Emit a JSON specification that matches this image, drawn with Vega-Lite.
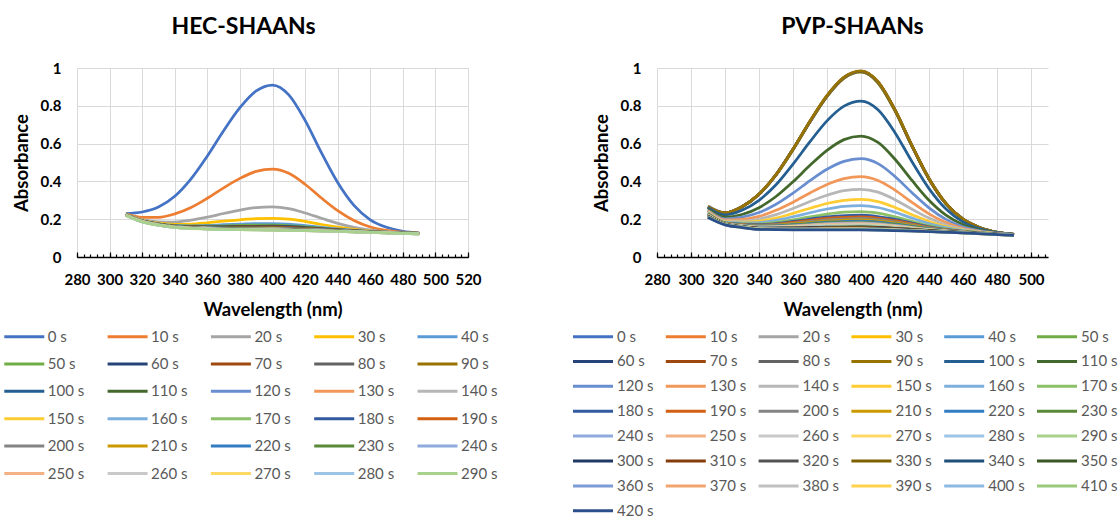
{
"$schema": "https://vega.github.io/schema/vega-lite/v6.json",
"padding": {"left": 4, "top": 16, "right": 0, "bottom": 0},
"autosize": {"type": "pad"},
"config": {
  "font": "Lato",
  "view": {"stroke": null},
  "axis": {"labelFont": "Lato", "labelFontWeight": "bold", "labelFontSize": 15, "labelColor": "#000000", "titleFont": "Lato", "titleFontWeight": "bold", "titleFontSize": 18.5, "titleColor": "#000000", "gridColor": "#D9D9D9", "gridWidth": 1, "labelFlush": false, "labelOverlap": false, "labelBound": false},
  "legend": {"orient": "none", "direction": "horizontal", "symbolSize": 100, "symbolStrokeWidth": 3, "symbolFillColor": "transparent", "labelFont": "Lato", "labelFontSize": 15, "labelColor": "#595959", "padding": 0, "gridAlign": "each", "labelLimit": 200, "symbolLimit": 0},
  "title": {"font": "Lato", "fontSize": 23, "fontWeight": "bold", "color": "#000000", "offset": 22}
},
"datasets": {
"hec": [
{"t":0,"w":310,"a":0.23},{"t":0,"w":320,"a":0.238},{"t":0,"w":330,"a":0.264},{"t":0,"w":340,"a":0.321},{"t":0,"w":350,"a":0.413},{"t":0,"w":360,"a":0.534},{"t":0,"w":370,"a":0.668},{"t":0,"w":380,"a":0.79},{"t":0,"w":390,"a":0.879},{"t":0,"w":400,"a":0.91},{"t":0,"w":410,"a":0.858},{"t":0,"w":420,"a":0.723},{"t":0,"w":430,"a":0.552},{"t":0,"w":440,"a":0.394},{"t":0,"w":450,"a":0.273},{"t":0,"w":460,"a":0.197},{"t":0,"w":470,"a":0.157},{"t":0,"w":480,"a":0.136},{"t":0,"w":490,"a":0.128},
{"t":10,"w":310,"a":0.228},{"t":10,"w":320,"a":0.21},{"t":10,"w":330,"a":0.21},{"t":10,"w":340,"a":0.228},{"t":10,"w":350,"a":0.262},{"t":10,"w":360,"a":0.311},{"t":10,"w":370,"a":0.366},{"t":10,"w":380,"a":0.416},{"t":10,"w":390,"a":0.453},{"t":10,"w":400,"a":0.465},{"t":10,"w":410,"a":0.443},{"t":10,"w":420,"a":0.385},{"t":10,"w":430,"a":0.312},{"t":10,"w":440,"a":0.245},{"t":10,"w":450,"a":0.193},{"t":10,"w":460,"a":0.159},{"t":10,"w":470,"a":0.141},{"t":10,"w":480,"a":0.131},{"t":10,"w":490,"a":0.126},
{"t":20,"w":310,"a":0.226},{"t":20,"w":320,"a":0.198},{"t":20,"w":330,"a":0.186},{"t":20,"w":340,"a":0.185},{"t":20,"w":350,"a":0.195},{"t":20,"w":360,"a":0.211},{"t":20,"w":370,"a":0.23},{"t":20,"w":380,"a":0.248},{"t":20,"w":390,"a":0.261},{"t":20,"w":400,"a":0.265},{"t":20,"w":410,"a":0.256},{"t":20,"w":420,"a":0.233},{"t":20,"w":430,"a":0.205},{"t":20,"w":440,"a":0.178},{"t":20,"w":450,"a":0.157},{"t":20,"w":460,"a":0.142},{"t":20,"w":470,"a":0.134},{"t":20,"w":480,"a":0.128},{"t":20,"w":490,"a":0.125},
{"t":30,"w":310,"a":0.226},{"t":30,"w":320,"a":0.194},{"t":30,"w":330,"a":0.179},{"t":30,"w":340,"a":0.173},{"t":30,"w":350,"a":0.174},{"t":30,"w":360,"a":0.181},{"t":30,"w":370,"a":0.19},{"t":30,"w":380,"a":0.197},{"t":30,"w":390,"a":0.203},{"t":30,"w":400,"a":0.205},{"t":30,"w":410,"a":0.2},{"t":30,"w":420,"a":0.188},{"t":30,"w":430,"a":0.172},{"t":30,"w":440,"a":0.158},{"t":30,"w":450,"a":0.146},{"t":30,"w":460,"a":0.137},{"t":30,"w":470,"a":0.132},{"t":30,"w":480,"a":0.128},{"t":30,"w":490,"a":0.125},
{"t":40,"w":310,"a":0.225},{"t":40,"w":320,"a":0.192},{"t":40,"w":330,"a":0.176},{"t":40,"w":340,"a":0.167},{"t":40,"w":350,"a":0.165},{"t":40,"w":360,"a":0.167},{"t":40,"w":370,"a":0.171},{"t":40,"w":380,"a":0.174},{"t":40,"w":390,"a":0.177},{"t":40,"w":400,"a":0.177},{"t":40,"w":410,"a":0.174},{"t":40,"w":420,"a":0.166},{"t":40,"w":430,"a":0.157},{"t":40,"w":440,"a":0.149},{"t":40,"w":450,"a":0.141},{"t":40,"w":460,"a":0.135},{"t":40,"w":470,"a":0.131},{"t":40,"w":480,"a":0.127},{"t":40,"w":490,"a":0.125},
{"t":50,"w":310,"a":0.225},{"t":50,"w":320,"a":0.192},{"t":50,"w":330,"a":0.175},{"t":50,"w":340,"a":0.165},{"t":50,"w":360,"a":0.163},{"t":50,"w":380,"a":0.167},{"t":50,"w":400,"a":0.169},{"t":50,"w":420,"a":0.16},{"t":50,"w":440,"a":0.146},{"t":50,"w":460,"a":0.134},{"t":50,"w":490,"a":0.125},
{"t":60,"w":310,"a":0.225},{"t":60,"w":320,"a":0.191},{"t":60,"w":330,"a":0.174},{"t":60,"w":340,"a":0.164},{"t":60,"w":360,"a":0.16},{"t":60,"w":380,"a":0.162},{"t":60,"w":400,"a":0.163},{"t":60,"w":420,"a":0.156},{"t":60,"w":440,"a":0.144},{"t":60,"w":460,"a":0.134},{"t":60,"w":490,"a":0.125},
{"t":70,"w":310,"a":0.225},{"t":70,"w":320,"a":0.191},{"t":70,"w":330,"a":0.174},{"t":70,"w":340,"a":0.163},{"t":70,"w":360,"a":0.158},{"t":70,"w":380,"a":0.159},{"t":70,"w":400,"a":0.159},{"t":70,"w":420,"a":0.153},{"t":70,"w":440,"a":0.143},{"t":70,"w":460,"a":0.133},{"t":70,"w":490,"a":0.125},
{"t":80,"w":310,"a":0.224},{"t":80,"w":320,"a":0.191},{"t":80,"w":330,"a":0.173},{"t":80,"w":340,"a":0.162},{"t":80,"w":360,"a":0.157},{"t":80,"w":380,"a":0.156},{"t":80,"w":400,"a":0.156},{"t":80,"w":420,"a":0.15},{"t":80,"w":440,"a":0.142},{"t":80,"w":460,"a":0.133},{"t":80,"w":490,"a":0.125},
{"t":90,"w":310,"a":0.224},{"t":90,"w":320,"a":0.19},{"t":90,"w":330,"a":0.173},{"t":90,"w":340,"a":0.162},{"t":90,"w":360,"a":0.156},{"t":90,"w":380,"a":0.155},{"t":90,"w":400,"a":0.154},{"t":90,"w":420,"a":0.149},{"t":90,"w":440,"a":0.141},{"t":90,"w":460,"a":0.133},{"t":90,"w":490,"a":0.125},
{"t":100,"w":310,"a":0.224},{"t":100,"w":320,"a":0.19},{"t":100,"w":330,"a":0.172},{"t":100,"w":340,"a":0.161},{"t":100,"w":360,"a":0.155},{"t":100,"w":380,"a":0.153},{"t":100,"w":400,"a":0.152},{"t":100,"w":420,"a":0.147},{"t":100,"w":440,"a":0.14},{"t":100,"w":460,"a":0.132},{"t":100,"w":490,"a":0.125},
{"t":110,"w":310,"a":0.224},{"t":110,"w":320,"a":0.19},{"t":110,"w":330,"a":0.172},{"t":110,"w":340,"a":0.161},{"t":110,"w":360,"a":0.154},{"t":110,"w":380,"a":0.152},{"t":110,"w":400,"a":0.151},{"t":110,"w":420,"a":0.146},{"t":110,"w":440,"a":0.14},{"t":110,"w":460,"a":0.132},{"t":110,"w":490,"a":0.125},
{"t":120,"w":310,"a":0.224},{"t":120,"w":320,"a":0.19},{"t":120,"w":330,"a":0.172},{"t":120,"w":340,"a":0.161},{"t":120,"w":360,"a":0.154},{"t":120,"w":380,"a":0.151},{"t":120,"w":400,"a":0.15},{"t":120,"w":420,"a":0.146},{"t":120,"w":440,"a":0.139},{"t":120,"w":460,"a":0.132},{"t":120,"w":490,"a":0.125},
{"t":130,"w":310,"a":0.223},{"t":130,"w":320,"a":0.189},{"t":130,"w":330,"a":0.172},{"t":130,"w":340,"a":0.16},{"t":130,"w":360,"a":0.153},{"t":130,"w":380,"a":0.15},{"t":130,"w":400,"a":0.149},{"t":130,"w":420,"a":0.145},{"t":130,"w":440,"a":0.139},{"t":130,"w":460,"a":0.132},{"t":130,"w":490,"a":0.124},
{"t":140,"w":310,"a":0.223},{"t":140,"w":320,"a":0.189},{"t":140,"w":330,"a":0.171},{"t":140,"w":340,"a":0.16},{"t":140,"w":360,"a":0.153},{"t":140,"w":380,"a":0.15},{"t":140,"w":400,"a":0.148},{"t":140,"w":420,"a":0.144},{"t":140,"w":440,"a":0.139},{"t":140,"w":460,"a":0.132},{"t":140,"w":490,"a":0.124},
{"t":150,"w":310,"a":0.223},{"t":150,"w":320,"a":0.189},{"t":150,"w":330,"a":0.171},{"t":150,"w":340,"a":0.16},{"t":150,"w":360,"a":0.152},{"t":150,"w":380,"a":0.149},{"t":150,"w":400,"a":0.148},{"t":150,"w":420,"a":0.144},{"t":150,"w":440,"a":0.138},{"t":150,"w":460,"a":0.132},{"t":150,"w":490,"a":0.124},
{"t":160,"w":310,"a":0.223},{"t":160,"w":320,"a":0.189},{"t":160,"w":330,"a":0.171},{"t":160,"w":340,"a":0.16},{"t":160,"w":360,"a":0.152},{"t":160,"w":380,"a":0.149},{"t":160,"w":400,"a":0.147},{"t":160,"w":420,"a":0.143},{"t":160,"w":440,"a":0.138},{"t":160,"w":460,"a":0.131},{"t":160,"w":490,"a":0.124},
{"t":170,"w":310,"a":0.223},{"t":170,"w":320,"a":0.189},{"t":170,"w":330,"a":0.171},{"t":170,"w":340,"a":0.159},{"t":170,"w":360,"a":0.152},{"t":170,"w":380,"a":0.148},{"t":170,"w":400,"a":0.147},{"t":170,"w":420,"a":0.143},{"t":170,"w":440,"a":0.138},{"t":170,"w":460,"a":0.131},{"t":170,"w":490,"a":0.124},
{"t":180,"w":310,"a":0.222},{"t":180,"w":320,"a":0.188},{"t":180,"w":330,"a":0.171},{"t":180,"w":340,"a":0.159},{"t":180,"w":360,"a":0.151},{"t":180,"w":380,"a":0.148},{"t":180,"w":400,"a":0.146},{"t":180,"w":420,"a":0.143},{"t":180,"w":440,"a":0.138},{"t":180,"w":460,"a":0.131},{"t":180,"w":490,"a":0.124},
{"t":190,"w":310,"a":0.222},{"t":190,"w":320,"a":0.188},{"t":190,"w":330,"a":0.17},{"t":190,"w":340,"a":0.159},{"t":190,"w":360,"a":0.151},{"t":190,"w":380,"a":0.148},{"t":190,"w":400,"a":0.146},{"t":190,"w":420,"a":0.142},{"t":190,"w":440,"a":0.137},{"t":190,"w":460,"a":0.131},{"t":190,"w":490,"a":0.124},
{"t":200,"w":310,"a":0.222},{"t":200,"w":320,"a":0.188},{"t":200,"w":330,"a":0.17},{"t":200,"w":340,"a":0.159},{"t":200,"w":360,"a":0.151},{"t":200,"w":380,"a":0.147},{"t":200,"w":400,"a":0.145},{"t":200,"w":420,"a":0.142},{"t":200,"w":440,"a":0.137},{"t":200,"w":460,"a":0.131},{"t":200,"w":490,"a":0.124},
{"t":210,"w":310,"a":0.222},{"t":210,"w":320,"a":0.188},{"t":210,"w":330,"a":0.17},{"t":210,"w":340,"a":0.158},{"t":210,"w":360,"a":0.15},{"t":210,"w":380,"a":0.147},{"t":210,"w":400,"a":0.145},{"t":210,"w":420,"a":0.142},{"t":210,"w":440,"a":0.137},{"t":210,"w":460,"a":0.131},{"t":210,"w":490,"a":0.124},
{"t":220,"w":310,"a":0.222},{"t":220,"w":320,"a":0.188},{"t":220,"w":330,"a":0.17},{"t":220,"w":340,"a":0.158},{"t":220,"w":360,"a":0.15},{"t":220,"w":380,"a":0.147},{"t":220,"w":400,"a":0.145},{"t":220,"w":420,"a":0.141},{"t":220,"w":440,"a":0.137},{"t":220,"w":460,"a":0.131},{"t":220,"w":490,"a":0.124},
{"t":230,"w":310,"a":0.221},{"t":230,"w":320,"a":0.187},{"t":230,"w":330,"a":0.17},{"t":230,"w":340,"a":0.158},{"t":230,"w":360,"a":0.15},{"t":230,"w":380,"a":0.146},{"t":230,"w":400,"a":0.144},{"t":230,"w":420,"a":0.141},{"t":230,"w":440,"a":0.137},{"t":230,"w":460,"a":0.131},{"t":230,"w":490,"a":0.123},
{"t":240,"w":310,"a":0.221},{"t":240,"w":320,"a":0.187},{"t":240,"w":330,"a":0.169},{"t":240,"w":340,"a":0.158},{"t":240,"w":360,"a":0.15},{"t":240,"w":380,"a":0.146},{"t":240,"w":400,"a":0.144},{"t":240,"w":420,"a":0.141},{"t":240,"w":440,"a":0.136},{"t":240,"w":460,"a":0.13},{"t":240,"w":490,"a":0.123},
{"t":250,"w":310,"a":0.221},{"t":250,"w":320,"a":0.187},{"t":250,"w":330,"a":0.169},{"t":250,"w":340,"a":0.158},{"t":250,"w":360,"a":0.149},{"t":250,"w":380,"a":0.146},{"t":250,"w":400,"a":0.144},{"t":250,"w":420,"a":0.14},{"t":250,"w":440,"a":0.136},{"t":250,"w":460,"a":0.13},{"t":250,"w":490,"a":0.123},
{"t":260,"w":310,"a":0.221},{"t":260,"w":320,"a":0.187},{"t":260,"w":330,"a":0.169},{"t":260,"w":340,"a":0.157},{"t":260,"w":360,"a":0.149},{"t":260,"w":380,"a":0.146},{"t":260,"w":400,"a":0.143},{"t":260,"w":420,"a":0.14},{"t":260,"w":440,"a":0.136},{"t":260,"w":460,"a":0.13},{"t":260,"w":490,"a":0.123},
{"t":270,"w":310,"a":0.221},{"t":270,"w":320,"a":0.187},{"t":270,"w":330,"a":0.169},{"t":270,"w":340,"a":0.157},{"t":270,"w":360,"a":0.149},{"t":270,"w":380,"a":0.145},{"t":270,"w":400,"a":0.143},{"t":270,"w":420,"a":0.14},{"t":270,"w":440,"a":0.136},{"t":270,"w":460,"a":0.13},{"t":270,"w":490,"a":0.123},
{"t":280,"w":310,"a":0.22},{"t":280,"w":320,"a":0.186},{"t":280,"w":330,"a":0.169},{"t":280,"w":340,"a":0.157},{"t":280,"w":360,"a":0.149},{"t":280,"w":380,"a":0.145},{"t":280,"w":400,"a":0.143},{"t":280,"w":420,"a":0.14},{"t":280,"w":440,"a":0.136},{"t":280,"w":460,"a":0.13},{"t":280,"w":490,"a":0.123},
{"t":290,"w":310,"a":0.22},{"t":290,"w":320,"a":0.186},{"t":290,"w":330,"a":0.168},{"t":290,"w":340,"a":0.157},{"t":290,"w":360,"a":0.148},{"t":290,"w":380,"a":0.145},{"t":290,"w":400,"a":0.142},{"t":290,"w":420,"a":0.139},{"t":290,"w":440,"a":0.135},{"t":290,"w":460,"a":0.13},{"t":290,"w":490,"a":0.123}
],
"pvp": [
{"t":0,"w":310,"a":0.27},{"t":0,"w":320,"a":0.233},{"t":0,"w":330,"a":0.265},{"t":0,"w":340,"a":0.332},{"t":0,"w":350,"a":0.434},{"t":0,"w":360,"a":0.568},{"t":0,"w":370,"a":0.715},{"t":0,"w":380,"a":0.85},{"t":0,"w":390,"a":0.946},{"t":0,"w":400,"a":0.979},{"t":0,"w":410,"a":0.922},{"t":0,"w":420,"a":0.774},{"t":0,"w":430,"a":0.587},{"t":0,"w":440,"a":0.413},{"t":0,"w":450,"a":0.282},{"t":0,"w":460,"a":0.2},{"t":0,"w":470,"a":0.155},{"t":0,"w":480,"a":0.131},{"t":0,"w":490,"a":0.12},
{"t":10,"w":310,"a":0.268},{"t":10,"w":320,"a":0.233},{"t":10,"w":330,"a":0.265},{"t":10,"w":340,"a":0.332},{"t":10,"w":350,"a":0.434},{"t":10,"w":360,"a":0.568},{"t":10,"w":370,"a":0.715},{"t":10,"w":380,"a":0.85},{"t":10,"w":390,"a":0.946},{"t":10,"w":400,"a":0.979},{"t":10,"w":410,"a":0.922},{"t":10,"w":420,"a":0.774},{"t":10,"w":430,"a":0.587},{"t":10,"w":440,"a":0.413},{"t":10,"w":450,"a":0.282},{"t":10,"w":460,"a":0.2},{"t":10,"w":470,"a":0.155},{"t":10,"w":480,"a":0.131},{"t":10,"w":490,"a":0.12},
{"t":20,"w":310,"a":0.265},{"t":20,"w":320,"a":0.233},{"t":20,"w":330,"a":0.266},{"t":20,"w":340,"a":0.332},{"t":20,"w":350,"a":0.435},{"t":20,"w":360,"a":0.57},{"t":20,"w":370,"a":0.717},{"t":20,"w":380,"a":0.852},{"t":20,"w":390,"a":0.949},{"t":20,"w":400,"a":0.982},{"t":20,"w":410,"a":0.925},{"t":20,"w":420,"a":0.777},{"t":20,"w":430,"a":0.588},{"t":20,"w":440,"a":0.414},{"t":20,"w":450,"a":0.282},{"t":20,"w":460,"a":0.2},{"t":20,"w":470,"a":0.155},{"t":20,"w":480,"a":0.131},{"t":20,"w":490,"a":0.12},
{"t":30,"w":310,"a":0.266},{"t":30,"w":320,"a":0.233},{"t":30,"w":330,"a":0.265},{"t":30,"w":340,"a":0.332},{"t":30,"w":350,"a":0.434},{"t":30,"w":360,"a":0.568},{"t":30,"w":370,"a":0.715},{"t":30,"w":380,"a":0.85},{"t":30,"w":390,"a":0.946},{"t":30,"w":400,"a":0.979},{"t":30,"w":410,"a":0.922},{"t":30,"w":420,"a":0.774},{"t":30,"w":430,"a":0.587},{"t":30,"w":440,"a":0.413},{"t":30,"w":450,"a":0.282},{"t":30,"w":460,"a":0.2},{"t":30,"w":470,"a":0.155},{"t":30,"w":480,"a":0.131},{"t":30,"w":490,"a":0.12},
{"t":40,"w":310,"a":0.264},{"t":40,"w":320,"a":0.233},{"t":40,"w":330,"a":0.266},{"t":40,"w":340,"a":0.332},{"t":40,"w":350,"a":0.435},{"t":40,"w":360,"a":0.57},{"t":40,"w":370,"a":0.717},{"t":40,"w":380,"a":0.852},{"t":40,"w":390,"a":0.949},{"t":40,"w":400,"a":0.982},{"t":40,"w":410,"a":0.925},{"t":40,"w":420,"a":0.777},{"t":40,"w":430,"a":0.588},{"t":40,"w":440,"a":0.414},{"t":40,"w":450,"a":0.282},{"t":40,"w":460,"a":0.2},{"t":40,"w":470,"a":0.155},{"t":40,"w":480,"a":0.131},{"t":40,"w":490,"a":0.12},
{"t":50,"w":310,"a":0.265},{"t":50,"w":320,"a":0.233},{"t":50,"w":330,"a":0.265},{"t":50,"w":340,"a":0.332},{"t":50,"w":350,"a":0.434},{"t":50,"w":360,"a":0.568},{"t":50,"w":370,"a":0.715},{"t":50,"w":380,"a":0.85},{"t":50,"w":390,"a":0.946},{"t":50,"w":400,"a":0.979},{"t":50,"w":410,"a":0.922},{"t":50,"w":420,"a":0.774},{"t":50,"w":430,"a":0.587},{"t":50,"w":440,"a":0.413},{"t":50,"w":450,"a":0.282},{"t":50,"w":460,"a":0.2},{"t":50,"w":470,"a":0.155},{"t":50,"w":480,"a":0.131},{"t":50,"w":490,"a":0.12},
{"t":60,"w":310,"a":0.263},{"t":60,"w":320,"a":0.233},{"t":60,"w":330,"a":0.266},{"t":60,"w":340,"a":0.332},{"t":60,"w":350,"a":0.435},{"t":60,"w":360,"a":0.57},{"t":60,"w":370,"a":0.717},{"t":60,"w":380,"a":0.852},{"t":60,"w":390,"a":0.949},{"t":60,"w":400,"a":0.982},{"t":60,"w":410,"a":0.925},{"t":60,"w":420,"a":0.777},{"t":60,"w":430,"a":0.588},{"t":60,"w":440,"a":0.414},{"t":60,"w":450,"a":0.282},{"t":60,"w":460,"a":0.2},{"t":60,"w":470,"a":0.155},{"t":60,"w":480,"a":0.131},{"t":60,"w":490,"a":0.12},
{"t":70,"w":310,"a":0.265},{"t":70,"w":320,"a":0.233},{"t":70,"w":330,"a":0.266},{"t":70,"w":340,"a":0.332},{"t":70,"w":350,"a":0.435},{"t":70,"w":360,"a":0.57},{"t":70,"w":370,"a":0.717},{"t":70,"w":380,"a":0.852},{"t":70,"w":390,"a":0.949},{"t":70,"w":400,"a":0.982},{"t":70,"w":410,"a":0.925},{"t":70,"w":420,"a":0.777},{"t":70,"w":430,"a":0.588},{"t":70,"w":440,"a":0.414},{"t":70,"w":450,"a":0.282},{"t":70,"w":460,"a":0.2},{"t":70,"w":470,"a":0.155},{"t":70,"w":480,"a":0.131},{"t":70,"w":490,"a":0.12},
{"t":80,"w":310,"a":0.264},{"t":80,"w":320,"a":0.233},{"t":80,"w":330,"a":0.266},{"t":80,"w":340,"a":0.332},{"t":80,"w":350,"a":0.435},{"t":80,"w":360,"a":0.57},{"t":80,"w":370,"a":0.717},{"t":80,"w":380,"a":0.852},{"t":80,"w":390,"a":0.949},{"t":80,"w":400,"a":0.982},{"t":80,"w":410,"a":0.925},{"t":80,"w":420,"a":0.777},{"t":80,"w":430,"a":0.588},{"t":80,"w":440,"a":0.414},{"t":80,"w":450,"a":0.282},{"t":80,"w":460,"a":0.2},{"t":80,"w":470,"a":0.155},{"t":80,"w":480,"a":0.131},{"t":80,"w":490,"a":0.12},
{"t":90,"w":310,"a":0.265},{"t":90,"w":320,"a":0.233},{"t":90,"w":330,"a":0.266},{"t":90,"w":340,"a":0.333},{"t":90,"w":350,"a":0.436},{"t":90,"w":360,"a":0.571},{"t":90,"w":370,"a":0.719},{"t":90,"w":380,"a":0.855},{"t":90,"w":390,"a":0.952},{"t":90,"w":400,"a":0.985},{"t":90,"w":410,"a":0.928},{"t":90,"w":420,"a":0.779},{"t":90,"w":430,"a":0.59},{"t":90,"w":440,"a":0.415},{"t":90,"w":450,"a":0.283},{"t":90,"w":460,"a":0.2},{"t":90,"w":470,"a":0.155},{"t":90,"w":480,"a":0.131},{"t":90,"w":490,"a":0.12},
{"t":100,"w":310,"a":0.261},{"t":100,"w":320,"a":0.223},{"t":100,"w":330,"a":0.247},{"t":100,"w":340,"a":0.3},{"t":100,"w":350,"a":0.382},{"t":100,"w":360,"a":0.491},{"t":100,"w":370,"a":0.61},{"t":100,"w":380,"a":0.72},{"t":100,"w":390,"a":0.798},{"t":100,"w":400,"a":0.825},{"t":100,"w":410,"a":0.779},{"t":100,"w":420,"a":0.658},{"t":100,"w":430,"a":0.504},{"t":100,"w":440,"a":0.362},{"t":100,"w":450,"a":0.254},{"t":100,"w":460,"a":0.186},{"t":100,"w":470,"a":0.149},{"t":100,"w":480,"a":0.129},{"t":100,"w":490,"a":0.12},
{"t":110,"w":310,"a":0.253},{"t":110,"w":320,"a":0.211},{"t":110,"w":330,"a":0.225},{"t":110,"w":340,"a":0.261},{"t":110,"w":350,"a":0.32},{"t":110,"w":360,"a":0.398},{"t":110,"w":370,"a":0.485},{"t":110,"w":380,"a":0.564},{"t":110,"w":390,"a":0.621},{"t":110,"w":400,"a":0.64},{"t":110,"w":410,"a":0.606},{"t":110,"w":420,"a":0.517},{"t":110,"w":430,"a":0.405},{"t":110,"w":440,"a":0.3},{"t":110,"w":450,"a":0.221},{"t":110,"w":460,"a":0.171},{"t":110,"w":470,"a":0.143},{"t":110,"w":480,"a":0.127},{"t":110,"w":490,"a":0.119},
{"t":120,"w":310,"a":0.247},{"t":120,"w":320,"a":0.202},{"t":120,"w":330,"a":0.211},{"t":120,"w":340,"a":0.235},{"t":120,"w":350,"a":0.279},{"t":120,"w":360,"a":0.338},{"t":120,"w":370,"a":0.404},{"t":120,"w":380,"a":0.464},{"t":120,"w":390,"a":0.506},{"t":120,"w":400,"a":0.52},{"t":120,"w":410,"a":0.494},{"t":120,"w":420,"a":0.426},{"t":120,"w":430,"a":0.34},{"t":120,"w":440,"a":0.26},{"t":120,"w":450,"a":0.199},{"t":120,"w":460,"a":0.16},{"t":120,"w":470,"a":0.138},{"t":120,"w":480,"a":0.126},{"t":120,"w":490,"a":0.119},
{"t":130,"w":310,"a":0.244},{"t":130,"w":320,"a":0.196},{"t":130,"w":330,"a":0.199},{"t":130,"w":340,"a":0.215},{"t":130,"w":350,"a":0.247},{"t":130,"w":360,"a":0.29},{"t":130,"w":370,"a":0.339},{"t":130,"w":380,"a":0.384},{"t":130,"w":390,"a":0.415},{"t":130,"w":400,"a":0.425},{"t":130,"w":410,"a":0.405},{"t":130,"w":420,"a":0.354},{"t":130,"w":430,"a":0.289},{"t":130,"w":440,"a":0.228},{"t":130,"w":450,"a":0.182},{"t":130,"w":460,"a":0.152},{"t":130,"w":470,"a":0.135},{"t":130,"w":480,"a":0.124},{"t":130,"w":490,"a":0.118},
{"t":140,"w":310,"a":0.24},{"t":140,"w":320,"a":0.191},{"t":140,"w":330,"a":0.19},{"t":140,"w":340,"a":0.201},{"t":140,"w":350,"a":0.224},{"t":140,"w":360,"a":0.257},{"t":140,"w":370,"a":0.294},{"t":140,"w":380,"a":0.327},{"t":140,"w":390,"a":0.351},{"t":140,"w":400,"a":0.358},{"t":140,"w":410,"a":0.343},{"t":140,"w":420,"a":0.303},{"t":140,"w":430,"a":0.253},{"t":140,"w":440,"a":0.206},{"t":140,"w":450,"a":0.17},{"t":140,"w":460,"a":0.147},{"t":140,"w":470,"a":0.133},{"t":140,"w":480,"a":0.124},{"t":140,"w":490,"a":0.118},
{"t":150,"w":310,"a":0.237},{"t":150,"w":320,"a":0.187},{"t":150,"w":330,"a":0.184},{"t":150,"w":340,"a":0.19},{"t":150,"w":350,"a":0.206},{"t":150,"w":360,"a":0.231},{"t":150,"w":370,"a":0.258},{"t":150,"w":380,"a":0.283},{"t":150,"w":390,"a":0.3},{"t":150,"w":400,"a":0.305},{"t":150,"w":410,"a":0.293},{"t":150,"w":420,"a":0.262},{"t":150,"w":430,"a":0.224},{"t":150,"w":440,"a":0.188},{"t":150,"w":450,"a":0.161},{"t":150,"w":460,"a":0.142},{"t":150,"w":470,"a":0.131},{"t":150,"w":480,"a":0.123},{"t":150,"w":490,"a":0.118},
{"t":160,"w":310,"a":0.234},{"t":160,"w":320,"a":0.184},{"t":160,"w":330,"a":0.18},{"t":160,"w":340,"a":0.182},{"t":160,"w":350,"a":0.194},{"t":160,"w":360,"a":0.213},{"t":160,"w":370,"a":0.234},{"t":160,"w":380,"a":0.254},{"t":160,"w":390,"a":0.268},{"t":160,"w":400,"a":0.272},{"t":160,"w":410,"a":0.262},{"t":160,"w":420,"a":0.237},{"t":160,"w":430,"a":0.206},{"t":160,"w":440,"a":0.177},{"t":160,"w":450,"a":0.155},{"t":160,"w":460,"a":0.139},{"t":160,"w":470,"a":0.13},{"t":160,"w":480,"a":0.122},{"t":160,"w":490,"a":0.118},
{"t":170,"w":310,"a":0.231},{"t":170,"w":320,"a":0.182},{"t":170,"w":330,"a":0.175},{"t":170,"w":340,"a":0.175},{"t":170,"w":350,"a":0.183},{"t":170,"w":360,"a":0.197},{"t":170,"w":370,"a":0.213},{"t":170,"w":380,"a":0.227},{"t":170,"w":390,"a":0.238},{"t":170,"w":400,"a":0.24},{"t":170,"w":410,"a":0.232},{"t":170,"w":420,"a":0.213},{"t":170,"w":430,"a":0.189},{"t":170,"w":440,"a":0.166},{"t":170,"w":450,"a":0.149},{"t":170,"w":460,"a":0.137},{"t":170,"w":470,"a":0.129},{"t":170,"w":480,"a":0.122},{"t":170,"w":490,"a":0.118},
{"t":180,"w":310,"a":0.228},{"t":180,"w":320,"a":0.18},{"t":180,"w":330,"a":0.173},{"t":180,"w":340,"a":0.171},{"t":180,"w":360,"a":0.188},{"t":180,"w":380,"a":0.212},{"t":180,"w":400,"a":0.222},{"t":180,"w":420,"a":0.199},{"t":180,"w":440,"a":0.16},{"t":180,"w":460,"a":0.135},{"t":180,"w":490,"a":0.117},
{"t":190,"w":310,"a":0.227},{"t":190,"w":320,"a":0.18},{"t":190,"w":330,"a":0.171},{"t":190,"w":340,"a":0.168},{"t":190,"w":360,"a":0.183},{"t":190,"w":380,"a":0.204},{"t":190,"w":400,"a":0.212},{"t":190,"w":420,"a":0.192},{"t":190,"w":440,"a":0.157},{"t":190,"w":460,"a":0.134},{"t":190,"w":490,"a":0.117},
{"t":200,"w":310,"a":0.226},{"t":200,"w":320,"a":0.179},{"t":200,"w":330,"a":0.17},{"t":200,"w":340,"a":0.167},{"t":200,"w":360,"a":0.178},{"t":200,"w":380,"a":0.196},{"t":200,"w":400,"a":0.204},{"t":200,"w":420,"a":0.186},{"t":200,"w":440,"a":0.154},{"t":200,"w":460,"a":0.133},{"t":200,"w":490,"a":0.117},
{"t":210,"w":310,"a":0.225},{"t":210,"w":320,"a":0.178},{"t":210,"w":330,"a":0.169},{"t":210,"w":340,"a":0.164},{"t":210,"w":360,"a":0.175},{"t":210,"w":380,"a":0.19},{"t":210,"w":400,"a":0.197},{"t":210,"w":420,"a":0.18},{"t":210,"w":440,"a":0.152},{"t":210,"w":460,"a":0.133},{"t":210,"w":490,"a":0.117},
{"t":220,"w":310,"a":0.224},{"t":220,"w":320,"a":0.177},{"t":220,"w":330,"a":0.167},{"t":220,"w":340,"a":0.163},{"t":220,"w":360,"a":0.171},{"t":220,"w":380,"a":0.184},{"t":220,"w":400,"a":0.19},{"t":220,"w":420,"a":0.175},{"t":220,"w":440,"a":0.15},{"t":220,"w":460,"a":0.132},{"t":220,"w":490,"a":0.117},
{"t":230,"w":310,"a":0.223},{"t":230,"w":320,"a":0.177},{"t":230,"w":330,"a":0.166},{"t":230,"w":340,"a":0.161},{"t":230,"w":360,"a":0.168},{"t":230,"w":380,"a":0.18},{"t":230,"w":400,"a":0.185},{"t":230,"w":420,"a":0.171},{"t":230,"w":440,"a":0.148},{"t":230,"w":460,"a":0.132},{"t":230,"w":490,"a":0.117},
{"t":240,"w":310,"a":0.222},{"t":240,"w":320,"a":0.176},{"t":240,"w":330,"a":0.165},{"t":240,"w":340,"a":0.159},{"t":240,"w":360,"a":0.165},{"t":240,"w":380,"a":0.176},{"t":240,"w":400,"a":0.18},{"t":240,"w":420,"a":0.167},{"t":240,"w":440,"a":0.146},{"t":240,"w":460,"a":0.131},{"t":240,"w":490,"a":0.117},
{"t":250,"w":310,"a":0.221},{"t":250,"w":320,"a":0.176},{"t":250,"w":330,"a":0.165},{"t":250,"w":340,"a":0.158},{"t":250,"w":360,"a":0.163},{"t":250,"w":380,"a":0.172},{"t":250,"w":400,"a":0.176},{"t":250,"w":420,"a":0.164},{"t":250,"w":440,"a":0.145},{"t":250,"w":460,"a":0.131},{"t":250,"w":490,"a":0.117},
{"t":260,"w":310,"a":0.22},{"t":260,"w":320,"a":0.175},{"t":260,"w":330,"a":0.164},{"t":260,"w":340,"a":0.157},{"t":260,"w":360,"a":0.161},{"t":260,"w":380,"a":0.168},{"t":260,"w":400,"a":0.172},{"t":260,"w":420,"a":0.161},{"t":260,"w":440,"a":0.144},{"t":260,"w":460,"a":0.131},{"t":260,"w":490,"a":0.116},
{"t":270,"w":310,"a":0.219},{"t":270,"w":320,"a":0.175},{"t":270,"w":330,"a":0.163},{"t":270,"w":340,"a":0.156},{"t":270,"w":360,"a":0.159},{"t":270,"w":380,"a":0.165},{"t":270,"w":400,"a":0.169},{"t":270,"w":420,"a":0.159},{"t":270,"w":440,"a":0.143},{"t":270,"w":460,"a":0.13},{"t":270,"w":490,"a":0.116},
{"t":280,"w":310,"a":0.218},{"t":280,"w":320,"a":0.175},{"t":280,"w":330,"a":0.163},{"t":280,"w":340,"a":0.155},{"t":280,"w":360,"a":0.157},{"t":280,"w":380,"a":0.163},{"t":280,"w":400,"a":0.166},{"t":280,"w":420,"a":0.157},{"t":280,"w":440,"a":0.142},{"t":280,"w":460,"a":0.13},{"t":280,"w":490,"a":0.116},
{"t":290,"w":310,"a":0.217},{"t":290,"w":320,"a":0.174},{"t":290,"w":330,"a":0.162},{"t":290,"w":340,"a":0.154},{"t":290,"w":360,"a":0.156},{"t":290,"w":380,"a":0.16},{"t":290,"w":400,"a":0.163},{"t":290,"w":420,"a":0.154},{"t":290,"w":440,"a":0.141},{"t":290,"w":460,"a":0.13},{"t":290,"w":490,"a":0.116},
{"t":300,"w":310,"a":0.216},{"t":300,"w":320,"a":0.174},{"t":300,"w":330,"a":0.161},{"t":300,"w":340,"a":0.153},{"t":300,"w":360,"a":0.154},{"t":300,"w":380,"a":0.158},{"t":300,"w":400,"a":0.16},{"t":300,"w":420,"a":0.152},{"t":300,"w":440,"a":0.14},{"t":300,"w":460,"a":0.13},{"t":300,"w":490,"a":0.116},
{"t":310,"w":310,"a":0.215},{"t":310,"w":320,"a":0.174},{"t":310,"w":330,"a":0.161},{"t":310,"w":340,"a":0.152},{"t":310,"w":360,"a":0.153},{"t":310,"w":380,"a":0.156},{"t":310,"w":400,"a":0.158},{"t":310,"w":420,"a":0.151},{"t":310,"w":440,"a":0.139},{"t":310,"w":460,"a":0.129},{"t":310,"w":490,"a":0.116},
{"t":320,"w":310,"a":0.214},{"t":320,"w":320,"a":0.173},{"t":320,"w":330,"a":0.16},{"t":320,"w":340,"a":0.151},{"t":320,"w":360,"a":0.151},{"t":320,"w":380,"a":0.154},{"t":320,"w":400,"a":0.156},{"t":320,"w":420,"a":0.149},{"t":320,"w":440,"a":0.138},{"t":320,"w":460,"a":0.129},{"t":320,"w":490,"a":0.116},
{"t":330,"w":310,"a":0.214},{"t":330,"w":320,"a":0.173},{"t":330,"w":330,"a":0.16},{"t":330,"w":340,"a":0.151},{"t":330,"w":360,"a":0.15},{"t":330,"w":380,"a":0.153},{"t":330,"w":400,"a":0.154},{"t":330,"w":420,"a":0.148},{"t":330,"w":440,"a":0.138},{"t":330,"w":460,"a":0.129},{"t":330,"w":490,"a":0.116},
{"t":340,"w":310,"a":0.213},{"t":340,"w":320,"a":0.173},{"t":340,"w":330,"a":0.159},{"t":340,"w":340,"a":0.15},{"t":340,"w":360,"a":0.149},{"t":340,"w":380,"a":0.151},{"t":340,"w":400,"a":0.152},{"t":340,"w":420,"a":0.146},{"t":340,"w":440,"a":0.137},{"t":340,"w":460,"a":0.129},{"t":340,"w":490,"a":0.116},
{"t":350,"w":310,"a":0.213},{"t":350,"w":320,"a":0.173},{"t":350,"w":330,"a":0.159},{"t":350,"w":340,"a":0.15},{"t":350,"w":360,"a":0.148},{"t":350,"w":380,"a":0.15},{"t":350,"w":400,"a":0.151},{"t":350,"w":420,"a":0.145},{"t":350,"w":440,"a":0.137},{"t":350,"w":460,"a":0.129},{"t":350,"w":490,"a":0.116},
{"t":360,"w":310,"a":0.212},{"t":360,"w":320,"a":0.172},{"t":360,"w":330,"a":0.159},{"t":360,"w":340,"a":0.149},{"t":360,"w":360,"a":0.148},{"t":360,"w":380,"a":0.149},{"t":360,"w":400,"a":0.15},{"t":360,"w":420,"a":0.145},{"t":360,"w":440,"a":0.136},{"t":360,"w":460,"a":0.128},{"t":360,"w":490,"a":0.116},
{"t":370,"w":310,"a":0.212},{"t":370,"w":320,"a":0.172},{"t":370,"w":330,"a":0.158},{"t":370,"w":340,"a":0.149},{"t":370,"w":360,"a":0.147},{"t":370,"w":380,"a":0.149},{"t":370,"w":400,"a":0.149},{"t":370,"w":420,"a":0.144},{"t":370,"w":440,"a":0.136},{"t":370,"w":460,"a":0.128},{"t":370,"w":490,"a":0.115},
{"t":380,"w":310,"a":0.211},{"t":380,"w":320,"a":0.172},{"t":380,"w":330,"a":0.158},{"t":380,"w":340,"a":0.148},{"t":380,"w":360,"a":0.147},{"t":380,"w":380,"a":0.148},{"t":380,"w":400,"a":0.148},{"t":380,"w":420,"a":0.143},{"t":380,"w":440,"a":0.136},{"t":380,"w":460,"a":0.128},{"t":380,"w":490,"a":0.115},
{"t":390,"w":310,"a":0.211},{"t":390,"w":320,"a":0.172},{"t":390,"w":330,"a":0.158},{"t":390,"w":340,"a":0.148},{"t":390,"w":360,"a":0.146},{"t":390,"w":380,"a":0.147},{"t":390,"w":400,"a":0.147},{"t":390,"w":420,"a":0.142},{"t":390,"w":440,"a":0.135},{"t":390,"w":460,"a":0.128},{"t":390,"w":490,"a":0.115},
{"t":400,"w":310,"a":0.21},{"t":400,"w":320,"a":0.171},{"t":400,"w":330,"a":0.157},{"t":400,"w":340,"a":0.147},{"t":400,"w":360,"a":0.146},{"t":400,"w":380,"a":0.146},{"t":400,"w":400,"a":0.146},{"t":400,"w":420,"a":0.142},{"t":400,"w":440,"a":0.135},{"t":400,"w":460,"a":0.128},{"t":400,"w":490,"a":0.115},
{"t":410,"w":310,"a":0.21},{"t":410,"w":320,"a":0.171},{"t":410,"w":330,"a":0.157},{"t":410,"w":340,"a":0.147},{"t":410,"w":360,"a":0.145},{"t":410,"w":380,"a":0.145},{"t":410,"w":400,"a":0.145},{"t":410,"w":420,"a":0.141},{"t":410,"w":440,"a":0.135},{"t":410,"w":460,"a":0.127},{"t":410,"w":490,"a":0.115},
{"t":420,"w":310,"a":0.209},{"t":420,"w":320,"a":0.17},{"t":420,"w":330,"a":0.156},{"t":420,"w":340,"a":0.146},{"t":420,"w":360,"a":0.144},{"t":420,"w":380,"a":0.144},{"t":420,"w":400,"a":0.144},{"t":420,"w":420,"a":0.14},{"t":420,"w":440,"a":0.134},{"t":420,"w":460,"a":0.127},{"t":420,"w":490,"a":0.114}
]
},
"hconcat": [
{
  "title": {"text": "HEC-SHAANs", "dx": -29},
  "width": 391, "height": 189,
  "data": {"name": "hec"},
  "layer": [
    {
      "mark": {"type": "line", "interpolate": "monotone", "strokeWidth": 2.75},
      "encoding": {
        "x": {"field": "w", "type": "quantitative", "scale": {"domain": [280, 520], "nice": false, "zero": false},
              "axis": {"orient": "bottom", "values": [280,300,320,340,360,380,400,420,440,460,480,500,520], "grid": true, "domainColor": "#000000", "domainWidth": 1.5, "tickColor": "#000000", "tickSize": -5, "tickWidth": 1.2, "labelPadding": 20, "title": "Wavelength (nm)", "titlePadding": 13.5}},
        "y": {"field": "a", "type": "quantitative", "scale": {"domain": [0, 1], "nice": false},
              "axis": {"values": [0,0.2,0.4,0.6,0.8,1], "format": "~g", "domain": false, "ticks": false, "tickSize": 0, "grid": true, "labelPadding": 16, "title": "Absorbance", "titlePadding": 9}},
        "color": {"field": "t", "type": "nominal",
          "scale": {"domain": [0,10,20,30,40,50,60,70,80,90,100,110,120,130,140,150,160,170,180,190,200,210,220,230,240,250,260,270,280,290],
                    "range": ["#4472C4","#ED7D31","#A5A5A5","#FFC000","#5B9BD5","#70AD47","#264478","#9E480E","#636363","#997300","#255E91","#43682B","#698ED0","#F1975A","#B7B7B7","#FFCD33","#7CAFDD","#8CC168","#335AA1","#D26012","#848484","#CC9A00","#327DC2","#5A8A39","#8FAADC","#F4B183","#C9C9C9","#FFD966","#9DC3E6","#A9D18E"]},
          "legend": {"title": null, "columns": 5, "legendX": -72.7, "legendY": 261, "symbolType": "M-4,0H4", "symbolOffset": 12.5, "labelOffset": 16, "columnPadding": 17.3, "rowPadding": 11.4, "labelExpr": "datum.label + ' s'"}}
      }
    },
    {
      "mark": {"type": "point", "opacity": 0},
      "encoding": {
        "x": {"field": "w", "type": "quantitative",
              "axis": {"orient": "bottom", "values": [280,284,288,292,296,300,304,308,312,316,320,324,328,332,336,340,344,348,352,356,360,364,368,372,376,380,384,388,392,396,400,404,408,412,416,420,424,428,432,436,440,444,448,452,456,460,464,468,472,476,480,484,488,492,496,500,504,508,512,516,520], "grid": false, "domain": false, "labels": false, "tickColor": "#000000", "tickSize": -3, "tickWidth": 1.2, "title": null}}
      }
    }
  ],
  "resolve": {"axis": {"x": "independent"}}
},
{
  "title": {"text": "PVP-SHAANs"},
  "width": 391, "height": 189,
  "data": {"name": "pvp"},
  "layer": [
    {
      "mark": {"type": "line", "interpolate": "monotone", "strokeWidth": 2.75},
      "encoding": {
        "x": {"field": "w", "type": "quantitative", "scale": {"domain": [280, 510], "nice": false, "zero": false},
              "axis": {"orient": "bottom", "values": [280,300,320,340,360,380,400,420,440,460,480,500], "grid": true, "domainColor": "#000000", "domainWidth": 1.5, "tickColor": "#000000", "tickSize": -5, "tickWidth": 1.2, "labelPadding": 20, "title": "Wavelength (nm)", "titlePadding": 13.5}},
        "y": {"field": "a", "type": "quantitative", "scale": {"domain": [0, 1], "nice": false},
              "axis": {"values": [0,0.2,0.4,0.6,0.8,1], "format": "~g", "domain": false, "ticks": false, "tickSize": 0, "grid": true, "labelPadding": 16, "title": "Absorbance", "titlePadding": 9}},
        "color": {"field": "t", "type": "nominal",
          "scale": {"domain": [0,10,20,30,40,50,60,70,80,90,100,110,120,130,140,150,160,170,180,190,200,210,220,230,240,250,260,270,280,290,300,310,320,330,340,350,360,370,380,390,400,410,420],
                    "range": ["#4472C4","#ED7D31","#A5A5A5","#FFC000","#5B9BD5","#70AD47","#264478","#9E480E","#636363","#997300","#255E91","#43682B","#698ED0","#F1975A","#B7B7B7","#FFCD33","#7CAFDD","#8CC168","#335AA1","#D26012","#848484","#CC9A00","#327DC2","#5A8A39","#8FAADC","#F4B183","#C9C9C9","#FFD966","#9DC3E6","#A9D18E","#203864","#843C0C","#525252","#7F6000","#1F4E79","#385723","#7C9CD6","#F2A46F","#C0C0C0","#FFD34D","#8CB9E2","#9AC97B","#2C4F8C"]},
          "legend": {"title": null, "columns": 6, "legendX": -84, "legendY": 261, "symbolType": "M-4,0H4", "symbolOffset": 12.5, "labelOffset": 16.5, "columnPadding": 5.8, "rowPadding": 8.9, "labelExpr": "datum.label + ' s'"}}
      }
    },
    {
      "mark": {"type": "point", "opacity": 0},
      "encoding": {
        "x": {"field": "w", "type": "quantitative",
              "axis": {"orient": "bottom", "values": [280,284,288,292,296,300,304,308,312,316,320,324,328,332,336,340,344,348,352,356,360,364,368,372,376,380,384,388,392,396,400,404,408,412,416,420,424,428,432,436,440,444,448,452,456,460,464,468,472,476,480,484,488,492,496,500,504,508], "grid": false, "domain": false, "labels": false, "tickColor": "#000000", "tickSize": -3, "tickWidth": 1.2, "title": null}}
      }
    }
  ],
  "resolve": {"axis": {"x": "independent"}}
}
],
"spacing": 189,
"bounds": "flush",
"resolve": {"scale": {"color": "independent"}, "legend": {"color": "independent"}}
}
